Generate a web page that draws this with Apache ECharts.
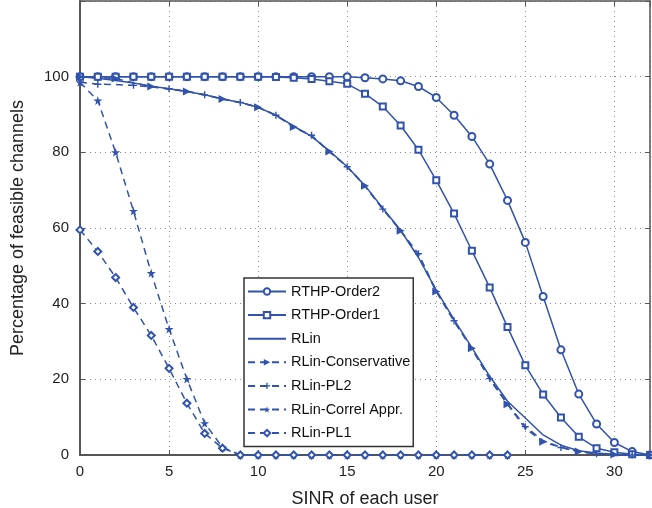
<!DOCTYPE html>
<html>
<head>
<meta charset="utf-8">
<script src="https://cdn.jsdelivr.net/npm/echarts@6/dist/echarts.min.js"></script>
<style>
html,body{margin:0;padding:0;background:#fff;}
#chart{width:652px;height:508px;}
</style>
</head>
<body>
<div id="chart"></div>
<script>
const sinr = [0,1,2,3,4,5,6,7,8,9,10,11,12,13,14,15,16,17,18,19,20,21,22,23,24,25,26,27,28,29,30,31,32];
const rthpOrder2 = [100,100,100,100,100,100,100,100,100,100,100,100,100,100,100,100,99.7,99.4,98.9,97.4,94.5,89.8,84.2,76.9,67.3,56.2,41.9,27.8,16.1,8.2,3.3,0.9,0];
const rthpOrder1 = [100,100,100,100,100,100,100,100,100,100,100,99.9,99.7,99.4,98.8,98.1,95.5,92.1,87.1,80.7,72.6,63.8,54.0,44.3,33.8,23.7,16.0,9.9,4.8,1.8,0.7,0.2,0];
const rlin = [100,99.6,99.0,98.3,97.5,96.8,96.1,95.2,94.1,93.2,91.9,89.8,86.9,84.2,80.4,76.2,71.2,65.2,59.4,52.2,43.6,35.8,28.4,20.8,14.2,9.8,5.3,2.6,1.1,0.5,0.2,0.1,0];
const rlinConservative = [100,99.7,99.5,98.4,97.4,96.7,96.1,95.2,94.1,93.1,91.9,89.8,86.7,84.3,80.2,76.2,71.2,65.0,59.3,52.5,43.2,35.3,28.2,20.0,13.4,7.0,3.5,2.0,0.9,0.3,0.1,0,0];
const rlinPL2 = [98.5,98.0,97.9,97.7,97.3,96.8,96.1,95.2,94.1,93.2,91.9,89.8,86.7,84.5,80.2,76.2,71.0,65.0,59.3,53.2,43.4,35.5,28.0,20.2,13.6,7.5,3.8,2.0,0.9,0.3,0.1,0,0];
const rlinCorrel = [98.5,93.7,80.0,64.5,48.1,33.3,20.1,8.4,2.0,0,0,0,0,0,0,0,0,0,0,0,0,0,0,0,0];
const rlinPL1 = [59.5,53.8,46.9,39.0,31.6,22.9,13.7,5.7,1.8,0,0,0,0,0,0,0,0,0,0,0,0,0,0,0,0];
const yTicks = [0,20,40,60,80,100];

const C = '#3153ac';
const STAR = 'path://M50,0L61,35L98,35L68,57L79,91L50,70L21,91L32,57L2,35L39,35Z';
const PLUS = 'path://M4,0H6V4H10V6H6V10H4V6H0V4H4Z';
const FONT = 'Liberation Sans, Arial, sans-serif';

function pts(ys, showFn) {
  return ys.map((y, i) => {
    const item = { value: [sinr[i], y] };
    if (showFn && !showFn(i)) item.symbol = 'none';
    return item;
  });
}

function mk(name, ys, opts) {
  return Object.assign({
    name: name,
    type: 'line',
    data: pts(ys, opts.showFn),
    showSymbol: true,
    symbolSize: 7,
    color: C,
    itemStyle: { color: C, borderWidth: 1.2 },
    lineStyle: { color: C, width: 1.5, type: opts.dashed ? [7, 5] : 'solid' },
    animation: false,
    z: 3
  }, opts.extra || {});
}

const series = [
  mk('RTHP-Order2', rthpOrder2, { extra: { symbol: 'emptyCircle', symbolSize: 7 } }),
  mk('RTHP-Order1', rthpOrder1, { extra: { symbol: 'emptyRect', symbolSize: 6 } }),
  mk('RLin', rlin, { extra: { symbol: 'circle', showSymbol: false, itemStyle: { color: C, opacity: 0 } } }),
  mk('RLin-Conservative', rlinConservative, { dashed: true, showFn: i => i % 2 === 0, extra: { symbol: 'triangle', symbolRotate: -90, symbolSize: 8 } }),
  mk('RLin-PL2', rlinPL2, { dashed: true, showFn: i => i % 2 === 1, extra: { symbol: PLUS, symbolSize: 7 } }),
  mk('RLin-Correl Appr.', rlinCorrel, { dashed: true, extra: { symbol: STAR, symbolSize: 9 } }),
  mk('RLin-PL1', rlinPL1, { dashed: true, extra: { symbol: 'emptyDiamond', symbolSize: 7 } })
];

const chart = echarts.init(document.getElementById('chart'), null, { renderer: 'canvas' });
const axisLbl = { color: '#222', fontSize: 15, fontFamily: FONT };
chart.setOption({
  backgroundColor: '#fff',
  animation: false,
  grid: { left: 80, right: 2, top: 1, bottom: 53, containLabel: false, outerBoundsMode: 'none' },
  legend: {
    orient: 'vertical',
    left: 244,
    top: 278,
    itemWidth: 38,
    itemHeight: 8,
    itemGap: 8.6,
    padding: [6, 3, 6, 3],
    backgroundColor: '#fff',
    borderColor: '#333',
    borderWidth: 1.5,
    borderRadius: 0,
    textStyle: { color: '#111', fontSize: 14.5, fontFamily: FONT },
    data: series.map(s => s.name)
  },
  xAxis: [{
    type: 'value', min: 0, max: 32, interval: 5,
    name: 'SINR of each user', nameLocation: 'middle', nameGap: 35,
    nameTextStyle: { color: '#222', fontSize: 18, fontFamily: FONT },
    axisLine: { show: true, onZero: false, lineStyle: { color: '#555', width: 2 } },
    axisTick: { show: true, inside: true, length: 5, lineStyle: { color: '#555' } },
    axisLabel: Object.assign({ margin: 9, showMaxLabel: false }, axisLbl),
    splitLine: { show: true, lineStyle: { color: '#888', type: [1, 4], width: 1 } }
  }, {
    type: 'value', min: 0, max: 32, interval: 5, position: 'top',
    axisLine: { show: true, onZero: false, lineStyle: { color: '#555', width: 1.5 } },
    axisTick: { show: true, inside: true, length: 5, lineStyle: { color: '#555' } },
    axisLabel: { show: false }, splitLine: { show: false }
  }],
  yAxis: [{
    type: 'value', min: 0, max: 120, interval: 20,
    name: 'Percentage of feasible channels', nameLocation: 'middle', nameGap: 53, nameRotate: 90,
    nameTextStyle: { color: '#222', fontSize: 18, fontFamily: FONT },
    axisLine: { show: true, onZero: false, lineStyle: { color: '#555', width: 2 } },
    axisTick: { show: true, inside: true, length: 5, lineStyle: { color: '#555' } },
    axisLabel: Object.assign({ margin: 11, formatter: v => yTicks.indexOf(v) >= 0 ? String(v) : '' }, axisLbl),
    splitLine: { show: true, lineStyle: { color: '#888', type: [1, 4], width: 1 } }
  }, {
    type: 'value', min: 0, max: 120, interval: 20, position: 'right',
    axisLine: { show: true, onZero: false, lineStyle: { color: '#555', width: 1.5 } },
    axisTick: { show: true, inside: true, length: 5, lineStyle: { color: '#555' } },
    axisLabel: { show: false }, splitLine: { show: false }
  }],
  series: series
});
</script>
</body>
</html>
